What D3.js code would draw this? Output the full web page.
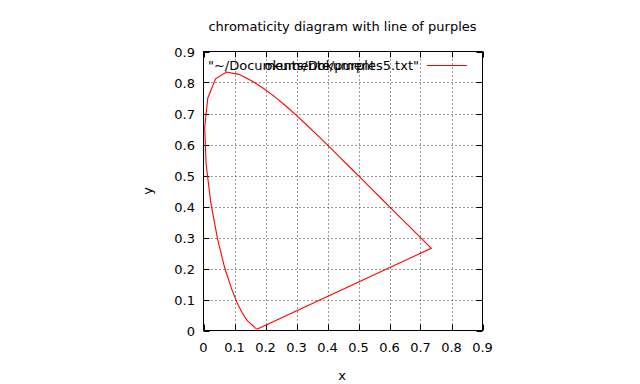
<!DOCTYPE html>
<html>
<head>
<meta charset="utf-8">
<script src="https://cdn.jsdelivr.net/npm/d3@7"></script>
<style>
  html, body { margin: 0; padding: 0; background: #fff; }
  svg { display: block; }
  text { font-family: "DejaVu Sans", sans-serif; fill: #000; }
</style>
</head>
<body>
<svg id="chart" width="640" height="384"></svg>
<script>
// Spectral locus points (x, y), closed by the line of purples
const locusX = [0.1741,0.1740,0.1738,0.1736,0.1733,0.1730,0.1726,0.1721,0.1714,0.1703,0.1689,0.1669,0.1644,0.1611,0.1566,0.1510,0.1440,0.1355,0.1241,0.1096,0.0913,0.0687,0.0454,0.0235,0.0082,0.0039,0.0139,0.0389,0.0743,0.1142,0.1547,0.1929,0.2296,0.2658,0.3016,0.3373,0.3731,0.4087,0.4441,0.4788,0.5125,0.5448,0.5752,0.6029,0.6270,0.6482,0.6658,0.6801,0.6915,0.7006,0.7079,0.7140,0.7190,0.7230,0.7260,0.7283,0.7300,0.7311,0.7320,0.7327,0.7334,0.7340,0.7344,0.7346,0.7347,0.1741];
const locusY = [0.0050,0.0050,0.0049,0.0049,0.0048,0.0048,0.0048,0.0048,0.0051,0.0058,0.0069,0.0086,0.0109,0.0138,0.0177,0.0227,0.0297,0.0399,0.0578,0.0868,0.1327,0.2007,0.2950,0.4127,0.5384,0.6548,0.7502,0.8120,0.8338,0.8262,0.8059,0.7816,0.7543,0.7243,0.6923,0.6589,0.6245,0.5896,0.5547,0.5202,0.4866,0.4544,0.4242,0.3965,0.3725,0.3514,0.3340,0.3197,0.3083,0.2993,0.2920,0.2859,0.2809,0.2770,0.2740,0.2717,0.2700,0.2689,0.2680,0.2673,0.2666,0.2660,0.2656,0.2654,0.2653,0.0050];
const xTicks = [0,0.1,0.2,0.3,0.4,0.5,0.6,0.7,0.8,0.9];
const yTicks = [0,0.1,0.2,0.3,0.4,0.5,0.6,0.7,0.8,0.9];
const xTickLabels = ["0","0.1","0.2","0.3","0.4","0.5","0.6","0.7","0.8","0.9"];
const yTickLabels = ["0","0.1","0.2","0.3","0.4","0.5","0.6","0.7","0.8","0.9"];
const titleText = "chromaticity diagram with line of purples";
const xLabel = "x";
const yLabel = "y";
// key title as it appears in the reference: two overlapping runs of the file name
const keyPartA = "\"~/Documents/Dokument";
const keyPartB = "okumente/purples5.txt\"";

const svg = d3.select("#chart");
const L = 203.5, R = 482.5, T = 51.5, B = 330.5;
const x = d3.scaleLinear().domain([0, 0.9]).range([L, R]);
const y = d3.scaleLinear().domain([0, 0.9]).range([B, T]);
const fs = 13;

// grid
const grid = svg.append("g").attr("stroke", "#000").attr("stroke-width", 1)
  .attr("stroke-dasharray", "1,3").attr("opacity", 0.8);
xTicks.slice(1, -1).forEach(v => {
  grid.append("line").attr("x1", Math.round(x(v)) + 0.5).attr("x2", Math.round(x(v)) + 0.5)
    .attr("y1", T).attr("y2", B);
});
yTicks.slice(1, -1).forEach(v => {
  grid.append("line").attr("y1", Math.round(y(v)) + 0.5).attr("y2", Math.round(y(v)) + 0.5)
    .attr("x1", L).attr("x2", R);
});

// axes with inward ticks (mirrored)
const tl = 6;
const ax = svg.append("g").attr("stroke", "#000").attr("stroke-width", 1);
xTicks.forEach(v => {
  const px = Math.round(x(v)) + 0.5;
  ax.append("line").attr("x1", px).attr("x2", px).attr("y1", B).attr("y2", B - tl);
  ax.append("line").attr("x1", px).attr("x2", px).attr("y1", T).attr("y2", T + tl);
});
yTicks.forEach(v => {
  const py = Math.round(y(v)) + 0.5;
  ax.append("line").attr("y1", py).attr("y2", py).attr("x1", L).attr("x2", L + tl);
  ax.append("line").attr("y1", py).attr("y2", py).attr("x1", R).attr("x2", R - tl);
});
svg.append("rect").attr("x", L).attr("y", T).attr("width", R - L).attr("height", B - T)
  .attr("fill", "none").attr("stroke", "#000").attr("stroke-width", 1);

// tick labels
svg.append("g").selectAll("text").data(xTicks).join("text")
  .attr("x", d => x(d)).attr("y", 352).attr("text-anchor", "middle")
  .attr("font-size", fs).text((d, i) => xTickLabels[i]);
svg.append("g").selectAll("text").data(yTicks).join("text")
  .attr("x", 195).attr("y", d => y(d) + 5).attr("text-anchor", "end")
  .attr("font-size", fs).text((d, i) => yTickLabels[i]);

// titles
svg.append("text").attr("x", 342.5).attr("y", 31).attr("text-anchor", "middle")
  .attr("font-size", fs).text(titleText);
svg.append("text").attr("x", 342).attr("y", 380).attr("text-anchor", "middle")
  .attr("font-size", fs).text(xLabel);
svg.append("text").attr("transform", "translate(152,191) rotate(-90)")
  .attr("text-anchor", "middle").attr("font-size", fs).text(yLabel);

// curve
const pts = locusX.map((v, i) => [v, locusY[i]]);
const line = d3.line().x(d => x(d[0])).y(d => y(d[1]));
svg.append("path").attr("d", line(pts)).attr("fill", "none")
  .attr("stroke", "#ff0000").attr("stroke-width", 1.1);

// key
svg.append("text").attr("x", 208).attr("y", 70).attr("font-size", fs).text(keyPartA);
svg.append("text").attr("x", 419).attr("y", 70).attr("text-anchor", "end").attr("font-size", fs).text(keyPartB);
svg.append("line").attr("x1", 427).attr("x2", 467).attr("y1", 65.5).attr("y2", 65.5)
  .attr("stroke", "#ff0000").attr("stroke-width", 1);
</script>
</body>
</html>
